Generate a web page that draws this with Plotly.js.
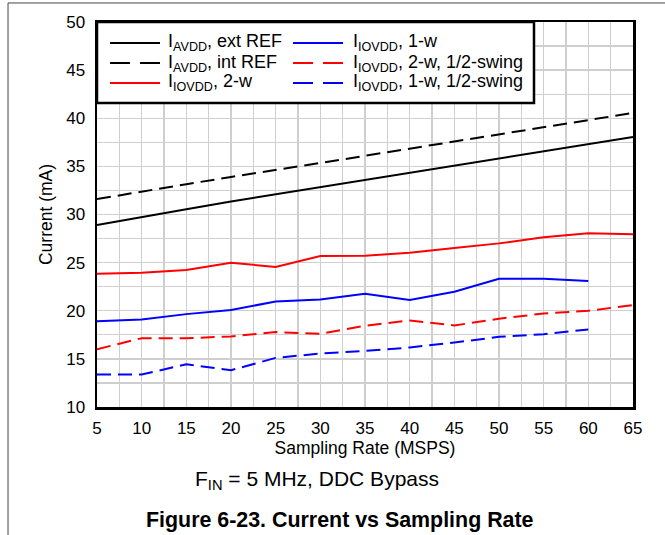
<!DOCTYPE html>
<html><head><meta charset="utf-8">
<script src="https://cdn.plot.ly/plotly-3.0.1.min.js"></script>
<style>html,body{margin:0;padding:0;background:#fff}#chart{width:665px;height:535px}</style>
</head><body><div id="chart"></div>
<script>
// Sampling rate (MSPS)
const rate = [5, 10, 15, 20, 25, 30, 35, 40, 45, 50, 55, 60, 65];
const rateTo60 = [5, 10, 15, 20, 25, 30, 35, 40, 45, 50, 55, 60];
// Currents (mA)
const avddExtRef = [28.9, 29.75, 30.55, 31.35, 32.1, 32.85, 33.6, 34.35, 35.05, 35.8, 36.55, 37.3, 38.05];
const avddIntRef = [31.6, 32.4, 33.15, 33.9, 34.6, 35.35, 36.1, 36.85, 37.6, 38.3, 39.05, 39.8, 40.55];
const iovdd2w = [23.85, 23.96, 24.23, 24.99, 24.55, 25.69, 25.72, 26.03, 26.52, 27.0, 27.63, 28.05, 27.94];
const iovdd1w = [18.92, 19.1, 19.65, 20.07, 20.97, 21.18, 21.77, 21.11, 21.98, 23.33, 23.33, 23.09];
const iovdd2wHalf = [16.0, 17.15, 17.15, 17.33, 17.78, 17.6, 18.44, 18.99, 18.47, 19.17, 19.72, 20.0, 20.59];
const iovdd1wHalf = [13.37, 13.37, 14.44, 13.82, 15.1, 15.56, 15.83, 16.18, 16.7, 17.29, 17.57, 18.06];
// Labels
const seriesNames = [
  'I<sub>AVDD</sub>, ext REF',
  'I<sub>AVDD</sub>, int REF',
  'I<sub>IOVDD</sub>, 2-w',
  'I<sub>IOVDD</sub>, 1-w',
  'I<sub>IOVDD</sub>, 2-w, 1/2-swing',
  'I<sub>IOVDD</sub>, 1-w, 1/2-swing'
];
const seriesColors = ['#000000', '#000000', '#ff0000', '#0000ff', '#ff0000', '#0000ff'];
const seriesDashed = [false, true, false, false, true, true];
const xTickVals = [5, 10, 15, 20, 25, 30, 35, 40, 45, 50, 55, 60, 65];
const yTickVals = [10, 15, 20, 25, 30, 35, 40, 45, 50];
const xTitle = 'Sampling Rate (MSPS)';
const yTitle = 'Current (mA)';
const subTitle = 'F<sub>IN</sub> = 5 MHz, DDC Bypass';
const caption = '<b>Figure 6-23. Current vs Sampling Rate</b>';

const FONT = 'Liberation Sans, Arial, Helvetica, sans-serif';
const DATA_DASH = '14px,7px';
const LEGEND_DASH = '20px,10px';

const xs = [rate, rate, rate, rateTo60, rate, rateTo60];
const ys = [avddExtRef, avddIntRef, iovdd2w, iovdd1w, iovdd2wHalf, iovdd1wHalf];

const data = ys.map((y, i) => ({
  x: xs[i], y: y, name: seriesNames[i], type: 'scatter', mode: 'lines', showlegend: false,
  line: {color: seriesColors[i], width: 2, dash: seriesDashed[i] ? DATA_DASH : 'solid'}
}));

// Hand-built legend (two columns, three rows) inside a framed box
const legendCols = [{x0: 0.0243, x1: 0.1175, tx: 0.129}, {x0: 0.3657, x1: 0.459, tx: 0.4745}];
const legendRows = [0.9455, 0.8935, 0.8416];
const shapes = [
  {type: 'rect', xref: 'paper', yref: 'paper', x0: 0, x1: 0.8153, y0: 0.7896, y1: 1,
    fillcolor: '#ffffff', line: {color: '#000', width: 2.5}, layer: 'above'},
  {type: 'line', xref: 'paper', yref: 'paper', x0: -0.166, x1: 1.07, y0: 1.0494, y1: 1.0494,
    line: {color: '#444', width: 1}},
  {type: 'line', xref: 'paper', yref: 'paper', x0: -0.166, x1: -0.166, y0: -0.34, y1: 1.0494,
    line: {color: '#444', width: 1}}
];
const annotations = [
  {text: subTitle, xref: 'paper', yref: 'paper', x: 0.41, y: -0.1896, xanchor: 'center', yanchor: 'middle',
    showarrow: false, font: {family: FONT, size: 21, color: '#000'}},
  {text: caption, xref: 'paper', yref: 'paper', x: 0.4534, y: -0.2935, xanchor: 'center', yanchor: 'middle',
    showarrow: false, font: {family: FONT, size: 21.4, color: '#000'}}
];
seriesNames.forEach((nm, i) => {
  const c = legendCols[Math.floor(i / 3)];
  const r = legendRows[i % 3];
  shapes.push({type: 'line', xref: 'paper', yref: 'paper', x0: c.x0, x1: c.x1, y0: r, y1: r,
    line: {color: seriesColors[i], width: 2, dash: seriesDashed[i] ? LEGEND_DASH : 'solid'}, layer: 'above'});
  annotations.push({text: nm, xref: 'paper', yref: 'paper', x: c.tx, y: r, xanchor: 'left', yanchor: 'middle',
    showarrow: false, font: {family: FONT, size: 18, color: '#000'}});
});

const layout = {
  width: 665, height: 535,
  margin: {l: 97, r: 32, t: 22, b: 128},
  paper_bgcolor: '#ffffff', plot_bgcolor: '#ffffff',
  font: {family: FONT, size: 17, color: '#000'},
  showlegend: false,
  xaxis: {
    range: [5, 65], tickvals: xTickVals, ticks: '', showline: true, mirror: true,
    linecolor: '#000', linewidth: 2.5, showgrid: true, gridcolor: '#cfcfcf', gridwidth: 1.3,
    minor: {dtick: 2.5, showgrid: true, gridcolor: '#cfcfcf', gridwidth: 1.3},
    zeroline: false, ticklabelstandoff: 4,
    tickfont: {family: FONT, size: 17, color: '#000'},
    title: {text: xTitle, standoff: 0, font: {family: FONT, size: 17.5, color: '#000'}}
  },
  yaxis: {
    range: [10, 50], tickvals: yTickVals, ticks: '', showline: true, mirror: true,
    linecolor: '#000', linewidth: 2.5, showgrid: true, gridcolor: '#cfcfcf', gridwidth: 1.3,
    minor: {dtick: 2.5, showgrid: true, gridcolor: '#cfcfcf', gridwidth: 1.3},
    zeroline: false, ticklabelstandoff: 6,
    tickfont: {family: FONT, size: 17, color: '#000'},
    title: {text: yTitle, standoff: 9, font: {family: FONT, size: 17.5, color: '#000'}}
  },
  shapes: shapes,
  annotations: annotations
};

Plotly.newPlot('chart', data, layout, {displayModeBar: false, staticPlot: true});
</script>
</body></html>
